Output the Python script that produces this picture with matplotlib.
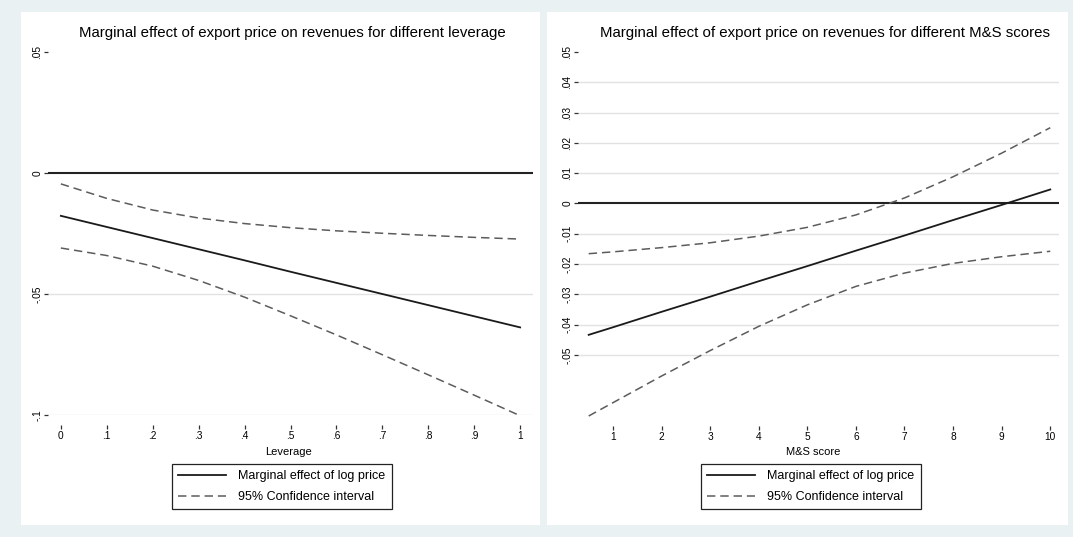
import numpy as np
import matplotlib.pyplot as plt
from matplotlib.patches import Rectangle
from matplotlib.lines import Line2D

# leverage panel: marginal effect and 95% bands
lev = [0, .1, .2, .3, .4, .5, .6, .7, .8, .9, 1]
lev_me = [-.0177, -.0223, -.0269, -.0315, -.0361, -.0408, -.0454, -.0500, -.0546, -.0592, -.0638]
lev_hi = [-.0045, -.0105, -.0153, -.0186, -.0209, -.0226, -.0239, -.0249, -.0258, -.0266, -.0273]
lev_lo = [-.0310, -.0341, -.0385, -.0444, -.0513, -.0590, -.0669, -.0751, -.0834, -.0918, -.1003]

# M&S score panel
ms = [.5, 1, 2, 3, 4, 5, 6, 7, 8, 9, 10]
ms_me = [-.0434, -.0409, -.0358, -.0308, -.0257, -.0207, -.0156, -.0106, -.0055, -.0005, .0046]
ms_hi = [-.0166, -.0160, -.0146, -.0130, -.0108, -.0079, -.0038, .0018, .0088, .0166, .0250]
ms_lo = [-.0702, -.0658, -.0570, -.0486, -.0406, -.0335, -.0274, -.0230, -.0198, -.0176, -.0158]

lev_ticks = [0, .1, .2, .3, .4, .5, .6, .7, .8, .9, 1]
lev_ticklabels = ['0', '.1', '.2', '.3', '.4', '.5', '.6', '.7', '.8', '.9', '1']
lev_yticks = [.05, 0, -.05, -.1]
lev_yticklabels = ['.05', '0', '-.05', '-.1']
ms_ticks = [1, 2, 3, 4, 5, 6, 7, 8, 9, 10]
ms_yticks = [.05, .04, .03, .02, .01, 0, -.01, -.02, -.03, -.04, -.05]
ms_yticklabels = ['.05', '.04', '.03', '.02', '.01', '0', '-.01', '-.02', '-.03', '-.04', '-.05']

plt.rcParams['font.family'] = ['Liberation Sans', 'DejaVu Sans']

W, H = 1073, 537
BG = '#e9f1f3'
DASH = '#5c5c5c'


def box(x0, y0, x1, y1):
    # pixel box (top-left origin) -> figure fraction rect
    return [x0 / W, 1 - y1 / H, (x1 - x0) / W, (y1 - y0) / H]


fig = plt.figure(figsize=(W / 100, H / 100), dpi=100, facecolor=BG)

# white graph regions
for x0, x1 in [(21, 540), (547, 1068)]:
    r = box(x0, 12, x1, 525)
    fig.patches.append(Rectangle((r[0], r[1]), r[2], r[3], transform=fig.transFigure,
                                 facecolor='white', edgecolor='none', zorder=-5))


def panel(rect, x, me, hi, lo, xlim, ylim, xt, xtl, yt, ytl, title, xlabel, tx, lx):
    ax = fig.add_axes(box(*rect))
    ax.set_facecolor('white')
    for s in ax.spines.values():
        s.set_visible(False)
    ax.spines['bottom'].set_position(('outward', 7))

    for y in yt[1:]:
        if y != 0:
            ax.axhline(y, color='#e2e2e2', lw=1.0, zorder=1)
    ax.axhline(0, color='#222222', lw=1.5, zorder=3)

    ax.plot(x, me, color='#1a1a1a', lw=1.3, zorder=4, clip_on=False)
    ax.plot(x, hi, color=DASH, lw=1.1, dashes=(5.5, 3.2), zorder=4, clip_on=False)
    ax.plot(x, lo, color=DASH, lw=1.1, dashes=(5.5, 3.2), zorder=4, clip_on=False)

    ax.set_xlim(*xlim)
    ax.set_ylim(*ylim)
    ax.set_xticks(xt)
    ax.set_xticklabels(xtl, fontsize=7.3)
    ax.set_yticks(yt)
    ax.set_yticklabels(ytl, fontsize=7.3, rotation=90, va='center')
    ax.tick_params(axis='both', length=3.2, width=0.9, color='#333333', pad=1.0)

    fig.text(tx / W, 1 - 33 / H, title, ha='center', va='center', fontsize=10.8)
    fig.text(lx / W, 1 - 452 / H, xlabel, ha='center', va='center', fontsize=8)
    return ax


panel((48, 52, 533, 415), lev, lev_me, lev_hi, lev_lo, (-0.028, 1.028), (-0.1, 0.05),
      lev_ticks, lev_ticklabels, lev_yticks, lev_yticklabels,
      'Marginal effect of export price on revenues for different leverage', 'Leverage', 292, 288)

panel((578, 52, 1059, 416), ms, ms_me, ms_hi, ms_lo, (0.28, 10.18), (-0.0702, 0.05),
      ms_ticks, [str(t) for t in ms_ticks], ms_yticks, ms_yticklabels,
      'Marginal effect of export price on revenues for different M&S scores', 'M&S score', 825, 813)

handles = [Line2D([], [], color='#1a1a1a', lw=1.3),
           Line2D([], [], color=DASH, lw=1.1, dashes=(5.5, 3.2))]
names = ['Marginal effect of log price', '95% Confidence interval']
for lx in (172, 701):
    leg = fig.legend(handles, names, loc='upper left', bbox_to_anchor=(lx / W, 1 - 464 / H),
                     fontsize=9, frameon=True, fancybox=False, framealpha=1,
                     edgecolor='#222222', handlelength=3.8, handletextpad=1.0,
                     borderpad=0.5, labelspacing=0.7, borderaxespad=0)
    leg.get_frame().set_linewidth(0.9)

fig.savefig('out.png', dpi=100, facecolor=BG)
